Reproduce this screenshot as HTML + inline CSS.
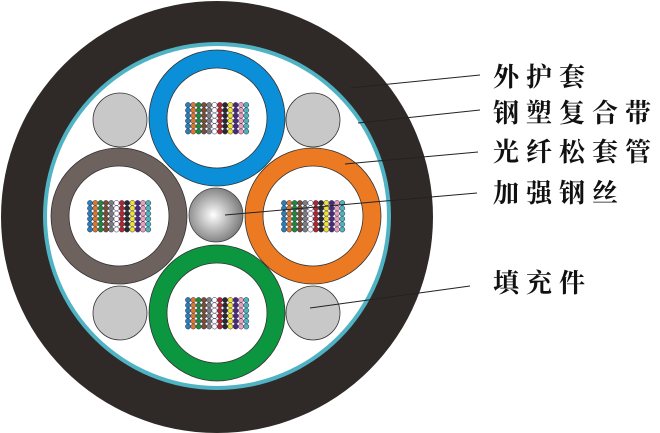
<!DOCTYPE html>
<html><head><meta charset="utf-8"><style>
html,body{margin:0;padding:0;background:#fff;width:660px;height:433px;overflow:hidden}
svg{display:block}
text{font-family:"Liberation Serif","Noto Serif CJK SC",serif;font-size:26px;font-weight:bold;fill:#111;letter-spacing:7px}
</style></head><body>
<svg id="s" width="660" height="433" viewBox="0 0 660 433" xmlns="http://www.w3.org/2000/svg">
<defs>
<radialGradient id="steel" cx="0.45" cy="0.5" r="0.6">
<stop offset="0" stop-color="#ffffff"/><stop offset="0.5" stop-color="#b5b5b5"/><stop offset="1" stop-color="#6e6e6e"/>
</radialGradient>
</defs>
<circle cx="217" cy="217" r="216" fill="#2f2a28"/>
<circle cx="217" cy="216" r="174" fill="#4fb3c4"/>
<circle cx="217" cy="216" r="170" fill="#fff"/>
<g stroke="#333" stroke-width="0.8" fill="#c8c8c8">
<circle cx="120" cy="120" r="27"/><circle cx="313" cy="120" r="27"/>
<circle cx="120" cy="313" r="27"/><circle cx="313" cy="313" r="27"/>
</g>
<g stroke="#333" stroke-width="0.8">
<circle cx="217" cy="118" r="59" fill="none" stroke="#0a8fd8" stroke-width="18"/>
<circle cx="119" cy="216" r="59" fill="none" stroke="#6e625f" stroke-width="18"/>
<circle cx="313" cy="216" r="59" fill="none" stroke="#ec7a22" stroke-width="18"/>
<circle cx="217" cy="313" r="59" fill="none" stroke="#0c9640" stroke-width="18"/>
</g>
<g fill="none" stroke="#333" stroke-width="0.8">
<circle cx="217" cy="118" r="68"/><circle cx="217" cy="118" r="50"/>
<circle cx="119" cy="216" r="68"/><circle cx="119" cy="216" r="50"/>
<circle cx="313" cy="216" r="68"/><circle cx="313" cy="216" r="50"/>
<circle cx="217" cy="313" r="68"/><circle cx="217" cy="313" r="50"/>
</g>
<circle cx="216" cy="215" r="27" fill="url(#steel)" stroke="#444" stroke-width="0.8"/>
<g id="fib"></g>
<g stroke="#222" stroke-width="1" fill="none">
<polyline points="350,88 480,75"/>
<polyline points="358,123 480,110"/>
<polyline points="345,164 478,152"/>
<polyline points="225,215 477,193"/>
<polyline points="310,308 470,286"/>
</g>
<text x="493" y="86">外护套</text>
<text x="493" y="122">钢塑复合带</text>
<text x="493" y="161">光纤松套管</text>
<text x="493" y="202">加强钢丝</text>
<text x="493" y="292">填充件</text>
</svg>
<script>
var cols=["#2a7fb5","#d9782a","#1f8a3c","#7a4e2e","#7d7d7d","#ffffff","#b0262a","#2a2a2a","#f0e030","#4a2a7a","#e8a0b8","#4fb3b8"];
var centers=[[217,118],[119,216],[313,216],[217,313]];
var g=document.getElementById("fib"),h="";
centers.forEach(function(c){
 for(var i=0;i<12;i++)for(var j=0;j<6;j++){
  var x=c[0]-29+i*5.3,y=c[1]-13+j*5.3;
  h+='<circle cx="'+x+'" cy="'+y+'" r="2.6" fill="'+cols[i]+'" stroke="#335" stroke-width="0.5"/>';
 }
});
g.innerHTML=h;
</script>
</body></html>
